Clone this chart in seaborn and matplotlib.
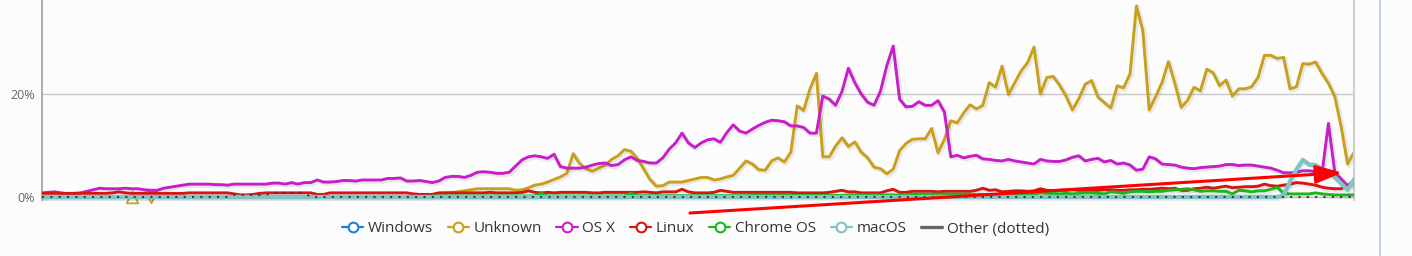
import numpy as np
import pandas as pd
import matplotlib
matplotlib.use("Agg")
import matplotlib.pyplot as plt
import matplotlib.patheffects as pe
from matplotlib.lines import Line2D
import seaborn as sns

sns.set_theme(style="white")
plt.rcParams['font.family'] = ['Open Sans', 'DejaVu Sans']

NaN = float('nan')

series_names = ["Windows", "Unknown", "OS X", "Linux", "Chrome OS", "macOS", "Other (dotted)"]
series_colors = ["#1a7fe0", "#c9a01c", "#c81ec8", "#d81414", "#18b818", "#7ec4c6", "#555555"]

osx = [
    0.8, 0.9, 1.0, 0.8, 0.6, 0.7, 0.8, 1.1, 1.4, 1.7,
    1.6, 1.6, 1.6, 1.7, 1.6, 1.6, 1.4, 1.3, 1.3, 1.7,
    1.9, 2.1, 2.3, 2.5, 2.5, 2.5, 2.5, 2.4, 2.4, 2.3,
    2.5, 2.5, 2.5, 2.5, 2.5, 2.5, 2.7, 2.7, 2.5, 2.8,
    2.5, 2.8, 2.8, 3.3, 2.9, 2.9, 3.0, 3.2, 3.2, 3.1,
    3.3, 3.3, 3.3, 3.3, 3.6, 3.6, 3.7, 3.1, 3.1, 3.2,
    3.0, 2.8, 3.1, 3.8, 4.0, 4.0, 3.8, 4.2, 4.8, 4.9,
    4.8, 4.6, 4.6, 4.8, 6.0, 7.2, 7.8, 8.0, 7.8, 7.5,
    8.3, 5.9, 5.6, 5.6, 5.6, 5.8, 6.2, 6.5, 6.6, 6.1,
    6.3, 7.2, 7.8, 7.1, 6.9, 6.6, 6.6, 7.6, 9.3, 10.5,
    12.4, 10.5, 9.6, 10.5, 11.1, 11.3, 10.6, 12.5, 14.0, 12.8,
    12.4, 13.2, 13.9, 14.5, 14.9, 14.8, 14.6, 13.8, 13.8, 13.5,
    12.4, 12.4, 19.6, 19.0, 17.8, 20.5, 25.0, 22.2, 20.0, 18.4,
    17.8, 20.5, 25.5, 29.3, 19.0, 17.5, 17.6, 18.5, 17.8, 17.8,
    18.7, 16.5, 7.8, 8.1, 7.6, 7.9, 8.1, 7.4, 7.3, 7.1,
    7.0, 7.3, 7.0, 6.8, 6.6, 6.4, 7.3, 7.0, 6.9, 6.9,
    7.2, 7.7, 8.0, 7.0, 7.3, 7.5, 6.8, 7.1, 6.4, 6.6,
    6.2, 5.2, 5.4, 7.8, 7.4, 6.4, 6.3, 6.2, 5.8, 5.6,
    5.5, 5.7, 5.8, 5.9, 6.0, 6.3, 6.3, 6.1, 6.2, 6.2,
    6.0, 5.8, 5.6, 5.2, 4.7, 4.7, 4.8, 5.1, 5.1, 4.9,
    4.5, 14.3, 4.8, 3.5, 2.2, 3.2,
]

unknown = [
    NaN, NaN, NaN, NaN, NaN, NaN, NaN, NaN, NaN, NaN,
    NaN, NaN, NaN, NaN, 0.0, NaN, NaN, 0.0, NaN, NaN,
    NaN, NaN, NaN, NaN, NaN, NaN, NaN, NaN, NaN, NaN,
    NaN, NaN, NaN, NaN, NaN, NaN, NaN, NaN, NaN, NaN,
    NaN, NaN, NaN, NaN, NaN, NaN, NaN, NaN, NaN, NaN,
    NaN, NaN, NaN, NaN, NaN, NaN, NaN, NaN, NaN, NaN,
    NaN, 0.5, 0.7, 0.8, 0.9, 1.0, 1.2, 1.4, 1.6, 1.6,
    1.6, 1.6, 1.6, 1.6, 1.3, 1.4, 1.8, 2.3, 2.5, 2.9,
    3.4, 3.9, 4.6, 8.4, 6.5, 5.5, 5.0, 5.6, 6.2, 7.3,
    8.0, 9.2, 8.9, 7.5, 5.5, 3.4, 2.1, 2.2, 2.9, 2.9,
    2.9, 3.2, 3.5, 3.8, 3.8, 3.3, 3.5, 3.9, 4.2, 5.6,
    7.0, 6.4, 5.3, 5.2, 7.0, 7.6, 6.8, 8.7, 17.7, 16.8,
    21.0, 24.0, 7.8, 7.8, 9.9, 11.5, 9.8, 10.7, 8.7, 7.6,
    5.8, 5.5, 4.5, 5.4, 9.0, 10.4, 11.2, 11.3, 11.3, 13.3,
    8.6, 11.2, 14.8, 14.4, 16.3, 17.9, 17.1, 17.8, 22.2, 21.3,
    25.4, 19.9, 22.2, 24.5, 26.1, 29.1, 20.0, 23.2, 23.4, 21.7,
    19.6, 16.9, 19.1, 21.9, 22.6, 19.4, 18.3, 17.3, 21.6, 21.2,
    23.9, 37.1, 32.3, 16.9, 19.5, 22.2, 26.3, 22.1, 17.4, 18.8,
    21.3, 20.6, 24.8, 24.1, 21.6, 22.7, 19.6, 21.0, 21.0, 21.4,
    23.2, 27.5, 27.5, 26.9, 27.1, 21.0, 21.4, 25.9, 25.8, 26.2,
    24.0, 22.1, 19.5, 13.6, 6.4, 8.7,
]

linux = [
    0.7, 0.7, 0.7, 0.7, 0.7, 0.7, 0.7, 0.7, 0.7, 0.7,
    0.7, 0.8, 1.0, 0.8, 0.7, 0.7, 0.7, 0.7, 0.7, 0.7,
    0.7, 0.7, 0.7, 0.8, 0.8, 0.8, 0.8, 0.8, 0.8, 0.8,
    0.6, 0.4, 0.4, 0.5, 0.7, 0.8, 0.8, 0.8, 0.8, 0.8,
    0.8, 0.8, 0.8, 0.5, 0.5, 0.8, 0.8, 0.8, 0.8, 0.8,
    0.8, 0.8, 0.8, 0.8, 0.8, 0.8, 0.8, 0.8, 0.6, 0.5,
    0.5, 0.5, 0.8, 0.8, 0.8, 0.8, 0.8, 0.8, 0.8, 0.8,
    0.9, 0.8, 0.8, 0.8, 0.8, 0.9, 1.2, 0.9, 0.8, 0.9,
    0.8, 0.9, 0.9, 0.9, 0.9, 0.9, 0.8, 0.8, 0.9, 0.9,
    0.9, 0.9, 0.9, 0.9, 1.0, 0.9, 0.8, 1.0, 1.0, 1.0,
    1.5, 1.0, 0.8, 0.8, 0.8, 0.9, 1.3, 1.1, 0.9, 0.9,
    0.9, 0.9, 0.9, 0.9, 0.9, 0.9, 0.9, 0.9, 0.8, 0.8,
    0.8, 0.8, 0.8, 0.9, 1.1, 1.3, 1.0, 1.0, 0.8, 0.8,
    0.8, 0.8, 1.2, 1.5, 0.9, 0.9, 1.1, 1.1, 1.1, 1.1,
    1.0, 1.1, 1.1, 1.1, 1.1, 1.1, 1.3, 1.7, 1.3, 1.4,
    1.0, 1.1, 1.2, 1.2, 1.1, 1.2, 1.6, 1.3, 1.2, 1.3,
    1.3, 1.4, 1.3, 1.3, 1.3, 1.3, 1.4, 1.4, 1.3, 1.3,
    1.4, 1.4, 1.5, 1.5, 1.6, 1.7, 1.6, 1.7, 1.3, 1.3,
    1.6, 1.7, 1.9, 1.7, 1.9, 2.1, 1.8, 1.9, 2.0, 2.0,
    2.1, 2.5, 2.2, 2.1, 2.3, 2.5, 2.8, 2.7, 2.5, 2.3,
    1.9, 1.7, 1.6, 1.6, 2.2, 3.0,
]

chrome_os = [
    0.0, 0.0, 0.0, 0.0, 0.0, 0.0, 0.0, 0.0, 0.0, 0.0,
    0.0, 0.0, 0.0, 0.0, 0.0, 0.0, 0.0, 0.0, 0.0, 0.0,
    0.0, 0.0, 0.0, 0.0, 0.0, 0.0, 0.0, 0.0, 0.0, 0.0,
    0.0, 0.0, 0.0, 0.0, 0.0, 0.0, 0.0, 0.0, 0.0, 0.0,
    0.0, 0.0, 0.0, 0.0, 0.0, 0.0, 0.0, 0.0, 0.0, 0.0,
    0.0, 0.0, 0.0, 0.0, 0.0, 0.0, 0.0, 0.0, 0.0, 0.0,
    0.0, 0.2, 0.2, 0.2, 0.2, 0.2, 0.2, 0.2, 0.2, 0.2,
    0.2, 0.2, 0.2, 0.2, 0.2, 0.2, 0.2, 0.2, 0.7, 0.2,
    0.2, 0.2, 0.2, 0.2, 0.2, 0.2, 0.2, 0.2, 0.2, 0.2,
    0.2, 0.2, 0.7, 0.25, 0.25, 0.25, 0.25, 0.25, 0.25, 0.25,
    0.25, 0.25, 0.25, 0.25, 0.25, 0.25, 0.25, 0.25, 0.25, 0.25,
    0.25, 0.3, 0.3, 0.3, 0.3, 0.3, 0.3, 0.3, 0.3, 0.3,
    0.3, 0.3, 0.3, 0.3, 0.3, 0.3, 0.4, 0.4, 0.4, 0.4,
    0.4, 0.4, 0.4, 0.4, 0.4, 0.4, 0.55, 0.55, 0.55, 0.55,
    0.55, 0.55, 0.55, 0.55, 0.55, 0.55, 0.5, 0.5, 0.5, 0.5,
    0.5, 0.55, 0.55, 0.55, 0.55, 0.55, 0.8, 0.7, 0.7, 0.6,
    0.7, 0.6, 0.7, 0.8, 0.8, 0.7, 0.6, 1.0, 0.9, 0.7,
    1.0, 1.1, 1.1, 1.0, 1.1, 1.1, 1.3, 1.4, 1.5, 1.6,
    1.4, 1.1, 1.2, 1.2, 1.1, 1.1, 0.6, 1.3, 1.2, 1.0,
    1.2, 1.2, 1.5, 1.9, 0.7, 0.6, 0.6, 0.6, 0.6, 0.8,
    0.6, 0.5, 0.4, 0.4, 0.4, 0.4,
]

macos = [
    0.0, 0.0, 0.0, 0.0, 0.0, 0.0, 0.0, 0.0, 0.0, 0.0,
    0.0, 0.0, 0.0, 0.0, 0.0, 0.0, 0.0, 0.0, 0.0, 0.0,
    0.0, 0.0, 0.0, 0.0, 0.0, 0.0, 0.0, 0.0, 0.0, 0.0,
    0.0, 0.0, 0.0, 0.0, 0.0, 0.0, 0.0, 0.0, 0.0, 0.0,
    0.0, 0.0, 0.0, 0.0, 0.0, 0.0, 0.0, 0.0, 0.0, 0.0,
    0.0, 0.0, 0.0, 0.0, 0.0, 0.0, 0.0, 0.0, 0.0, 0.0,
    0.0, 0.0, 0.0, 0.0, 0.0, 0.0, 0.0, 0.0, 0.0, 0.0,
    0.0, 0.0, 0.0, 0.0, 0.0, 0.0, 0.0, 0.0, 0.0, 0.0,
    0.0, 0.0, 0.0, 0.0, 0.0, 0.0, 0.0, 0.0, 0.0, 0.0,
    0.0, 0.0, 0.0, 0.0, 0.0, 0.0, 0.0, 0.0, 0.0, 0.0,
    0.0, 0.0, 0.0, 0.0, 0.0, 0.0, 0.0, 0.0, 0.0, 0.0,
    0.0, 0.0, 0.0, 0.0, 0.0, 0.0, 0.0, 0.0, 0.0, 0.0,
    0.0, 0.0, 0.0, 0.0, 0.0, 0.0, 0.0, 0.0, 0.0, 0.0,
    0.0, 0.0, 0.0, 0.0, 0.0, 0.0, 0.0, 0.0, 0.0, 0.0,
    0.0, 0.0, 0.0, 0.0, 0.0, 0.0, 0.0, 0.0, 0.0, 0.0,
    0.0, 0.0, 0.0, 0.0, 0.0, 0.0, 0.0, 0.0, 0.0, 0.0,
    0.0, 0.0, 0.0, 0.0, 0.0, 0.0, 0.0, 0.0, 0.0, 0.0,
    0.0, 0.0, 0.0, 0.0, 0.0, 0.0, 0.0, 0.0, 0.0, 0.0,
    0.0, 0.0, 0.0, 0.0, 0.0, 0.0, 0.0, 0.0, 0.0, 0.0,
    0.0, 0.0, 0.0, 0.0, 0.3, 3.0, 5.3, 7.2, 6.3, 6.2,
    5.4, 4.8, 3.8, 2.6, 1.4, 3.4,
]

other = [
    0.0, 0.0, 0.0, 0.0, 0.0, 0.0, 0.0, 0.0, 0.0, 0.0,
    0.0, 0.0, 0.0, 0.0, 0.0, 0.0, 0.0, 0.0, 0.0, 0.0,
    0.0, 0.0, 0.0, 0.0, 0.0, 0.0, 0.0, 0.0, 0.0, 0.0,
    0.4, 0.4, 0.4, 0.4, 0.4, 0.4, 0.8, 0.8, 0.8, 0.8,
    0.8, 0.8, 0.0, 0.0, 0.0, 0.0, 0.0, 0.0, 0.0, 0.0,
    0.0, 0.0, 0.0, 0.0, 0.0, 0.0, 0.0, 0.0, 0.0, 0.0,
    0.0, 0.0, 0.0, 0.0, 0.0, 0.0, 0.0, 0.0, 0.0, 0.0,
    0.0, 0.0, 0.0, 0.0, 0.0, 0.0, 0.0, 0.0, 0.0, 0.0,
    0.0, 0.0, 0.0, 0.0, 0.0, 0.0, 0.0, 0.0, 0.0, 0.0,
    0.0, 0.0, 0.0, 0.0, 0.0, 0.0, 0.0, 0.0, 0.0, 0.0,
    0.0, 0.0, 0.0, 0.0, 0.0, 0.0, 0.0, 0.0, 0.0, 0.0,
    0.0, 0.0, 0.0, 0.0, 0.0, 0.0, 0.0, 0.0, 0.0, 0.0,
    0.0, 0.0, 0.0, 0.0, 0.0, 0.0, 0.0, 0.0, 0.0, 0.0,
    0.0, 0.0, 0.0, 0.0, 0.0, 0.0, 0.0, 0.0, 0.0, 0.0,
    0.0, 0.0, 0.0, 0.0, 0.0, 0.0, 0.0, 0.0, 0.0, 0.0,
    0.0, 0.0, 0.0, 0.0, 0.0, 0.0, 0.0, 0.0, 0.0, 0.0,
    0.0, 0.0, 0.0, 0.0, 0.0, 0.0, 0.0, 0.0, 0.0, 0.0,
    0.0, 0.0, 0.0, 0.0, 0.0, 0.0, 0.0, 0.0, 0.0, 0.0,
    0.0, 0.0, 0.0, 0.0, 0.0, 0.0, 0.0, 0.0, 0.0, 0.0,
    0.0, 0.0, 0.0, 0.0, 0.0, 0.0, 0.0, 0.0, 0.0, 0.0,
    0.0, 0.0, 0.0, 0.0, 0.0, 0.0,
]

y_ticks = [0, 20]
y_tick_labels = ["0%", "20%"]

BG = "#fcfcfd"
W, H = 1412, 256
fig = plt.figure(figsize=(W / 100, H / 100), dpi=100, facecolor=BG)
ax = fig.add_axes([42 / W, (H - 205) / H, 1312 / W, 205 / H])
ax.set_facecolor(BG)

n = len(osx)
week = np.arange(n)

shadow = [pe.SimpleLineShadow(offset=(1, -1), shadow_color="black", alpha=0.08, linewidth=3.5), pe.Normal()]

def draw(values, color, lw=2.1, z=2, **kw):
    vals = np.array(values, dtype=float)
    seg = np.cumsum(np.isnan(vals))
    df = pd.DataFrame({"week": week, "share": vals, "seg": seg}).dropna()
    sns.lineplot(data=df, x="week", y="share", units="seg", estimator=None, ax=ax,
                 color=color, lw=lw, zorder=z, legend=False, path_effects=shadow, **kw)

# Unknown (with isolated points as markers)
draw(unknown, series_colors[1], z=2)
u = np.array(unknown, dtype=float)
iso = [i for i in range(n) if not np.isnan(u[i])
       and (i == 0 or np.isnan(u[i - 1])) and (i == n - 1 or np.isnan(u[i + 1]))]
for k, i in enumerate(iso):
    sns.scatterplot(x=[week[i]], y=[u[i]], ax=ax, marker=["^", "v"][k % 2], s=70,
                    facecolor="white", edgecolor=series_colors[1], linewidth=1.3, zorder=2.1, legend=False)

draw(osx, series_colors[2], z=3)
draw(linux, series_colors[3], z=4)
draw(chrome_os, series_colors[4], z=5)
draw(macos, series_colors[5], lw=3.1, z=6)

df_o = pd.DataFrame({"week": week, "share": other})
sns.lineplot(data=df_o, x="week", y="share", ax=ax, color="#3c3c3c", lw=1.5, zorder=7, legend=False)
ax.lines[-1].set_dashes((1, 3))

ymin, ymax = -1.553, 38.25
ax.set_xlim(0, n - 1)
ax.set_ylim(ymin, ymax)
ax.set_yticks(y_ticks)
ax.set_yticklabels(y_tick_labels)
ax.set_xticks([])
ax.set_xlabel("")
ax.set_ylabel("")
ax.yaxis.grid(True, color="#c8c8c8", lw=1.0, zorder=0)
ax.set_axisbelow(True)
ax.tick_params(axis="y", length=0, pad=5, labelsize=9, labelcolor="#666666")
for s in ["top", "bottom"]:
    ax.spines[s].set_visible(False)
ax.spines["left"].set_color("#a0a0a0")
ax.spines["left"].set_linewidth(1.2)
ax.spines["left"].set_bounds(-0.6, ymax)
ax.spines["right"].set_color("#cfcfcf")
ax.spines["right"].set_linewidth(1.6)
ax.spines["right"].set_bounds(-0.6, ymax)

# blue frame line at right
fig.add_artist(Line2D([1380 / W, 1380 / W], [0, 1], transform=fig.transFigure, color="#b5cce6", lw=1.2))

# legend
handles = []
for name, c in zip(series_names, series_colors):
    if name.startswith("Other"):
        handles.append(Line2D([], [], color="#666666", lw=2.4))
    else:
        handles.append(Line2D([], [], color=c, lw=1.6, marker="o", markersize=7,
                              markerfacecolor="white", markeredgecolor=c, markeredgewidth=1.5))
leg = fig.legend(handles, series_names, loc="center", bbox_to_anchor=(0.4926, 1 - 229 / H), ncol=7,
                 frameon=False, fontsize=11, handlelength=1.4, handletextpad=0.3, columnspacing=0.95,
                 borderaxespad=0)
for t in leg.get_texts():
    t.set_color("#333333")

# red annotation arrow
ax.annotate("", xy=(1342, H - 172.7), xycoords="figure pixels",
            xytext=(690, H - 213), textcoords="figure pixels",
            arrowprops=dict(arrowstyle="-|>,head_length=0.8,head_width=0.28", mutation_scale=20,
                            color="#ff0000", lw=2.2, shrinkA=0, shrinkB=0),
            annotation_clip=False, zorder=20)

fig.savefig("out.png", dpi=100, facecolor=BG)
